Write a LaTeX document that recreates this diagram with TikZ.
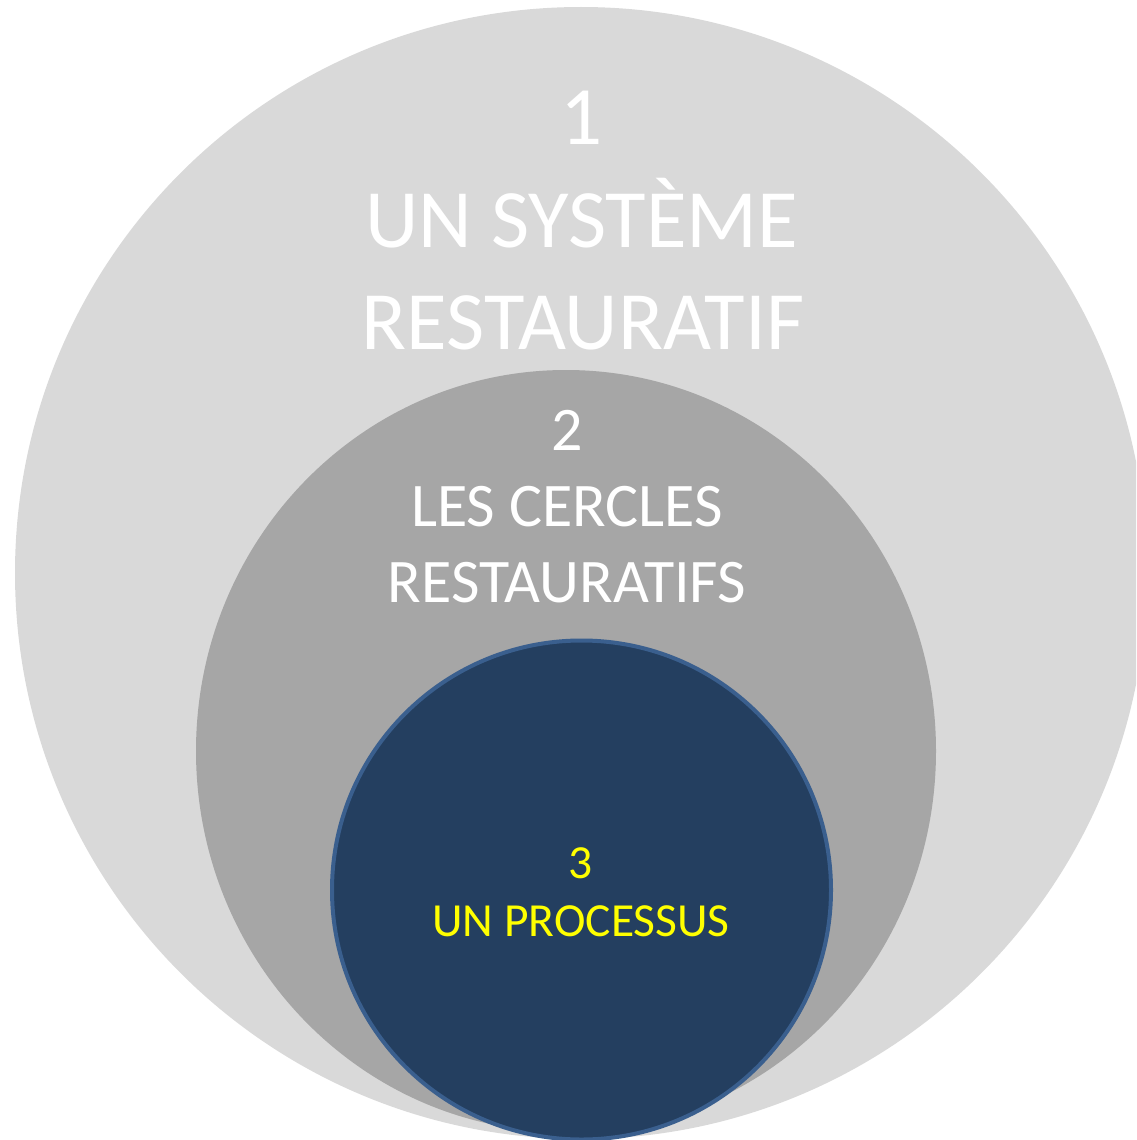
\documentclass[tikz,border=0pt]{standalone}
\usepackage{fontspec}
\setmainfont{Carlito}
\definecolor{lightring}{HTML}{D9D9D9}
\definecolor{midring}{HTML}{A6A6A6}
\definecolor{corefill}{HTML}{243F60}
\definecolor{coreline}{HTML}{3A5F8E}
\definecolor{coretext}{HTML}{FFFF00}
\tikzset{
  bigtxt/.style={anchor=base, text=white, inner sep=0pt, font=\fontsize{83}{100}\selectfont},
  midtxt/.style={anchor=base, text=white, inner sep=0pt, font=\fontsize{62}{74}\selectfont},
  coretxt/.style={anchor=base, text=coretext, inner sep=0pt, font=\fontsize{47.5}{57}\selectfont}
}
\begin{document}
\begin{tikzpicture}[x=1pt,y=-1pt]
\useasboundingbox (0,0) rectangle (1136,1140);
\clip (0,0) rectangle (1136,1140);
\fill[lightring] (581,573) circle[radius=566pt];
\fill[midring] (566,751) ellipse[x radius=370pt, y radius=381pt];
\filldraw[fill=corefill, draw=coreline, line width=4pt] (581.5,890) circle[radius=249.5pt];
\node[bigtxt] (n1) at (582,144) {1};
\node[bigtxt] (t1a) at (582,247) {UN SYSTÈME};
\node[bigtxt] (t1b) at (583,349) {RESTAURATIF};
\node[midtxt] (n2) at (567,450) {2};
\node[midtxt] (t2a) at (567,526) {LES CERCLES};
\node[midtxt] (t2b) at (567,602) {RESTAURATIFS};
\node[coretxt] (n3) at (581,878) {3};
\node[coretxt] (t3) at (581,936) {UN PROCESSUS};
\end{tikzpicture}
\end{document}
